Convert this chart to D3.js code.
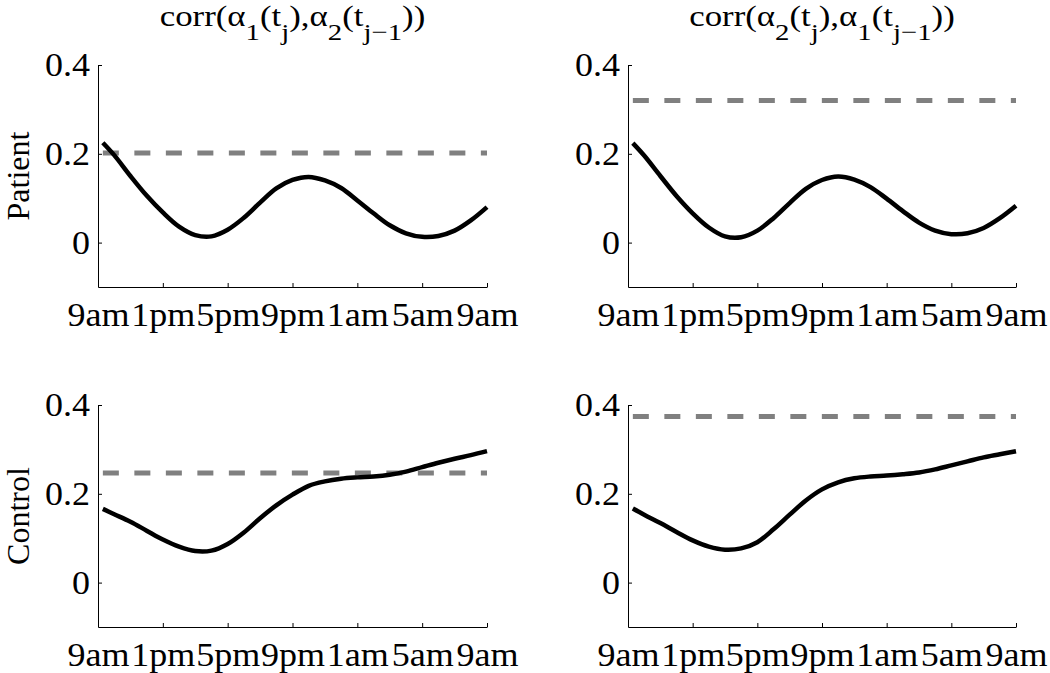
<!DOCTYPE html>
<html>
<head>
<meta charset="utf-8">
<script src="https://cdn.jsdelivr.net/npm/d3@7"></script>
<style>
  body { margin: 0; background: #fff; }
  svg text { font-family: "Liberation Serif", "Times New Roman", Times, serif; fill: #000; }
  .axis path, .axis line { stroke: #000; stroke-width: 1; }
  .curve { fill: none; stroke: #000; stroke-width: 4.5; }
  .ref { fill: none; stroke: #808080; stroke-width: 5; stroke-dasharray: 16 15.5; }
</style>
</head>
<body>
<div id="chart"></div>
<script>
// hours since 9am
const hours = [0.3, 1, 2, 3, 4, 5, 6, 7, 8, 9, 10, 11, 12, 13, 14, 15, 16, 17, 18, 19, 20, 21, 22, 23, 24];

const patientA = [0.225, 0.197, 0.150, 0.106, 0.068, 0.036, 0.017, 0.014, 0.029, 0.056, 0.090, 0.122, 0.141,
                  0.148, 0.140, 0.123, 0.095, 0.066, 0.039, 0.021, 0.013, 0.015, 0.027, 0.050, 0.080];
const patientB = [0.224, 0.196, 0.150, 0.105, 0.066, 0.034, 0.014, 0.012, 0.027, 0.055, 0.089, 0.121, 0.141,
                  0.149, 0.142, 0.125, 0.099, 0.071, 0.045, 0.027, 0.019, 0.021, 0.033, 0.055, 0.083];
const controlA = [0.166, 0.154, 0.137, 0.117, 0.097, 0.081, 0.071, 0.072, 0.087, 0.113, 0.145, 0.174, 0.198,
                  0.218, 0.228, 0.234, 0.237, 0.239, 0.243, 0.250, 0.260, 0.270, 0.279, 0.287, 0.296];
const controlB = [0.167, 0.153, 0.134, 0.114, 0.095, 0.081, 0.074, 0.077, 0.091, 0.120, 0.153, 0.185, 0.210,
                  0.226, 0.235, 0.239, 0.241, 0.244, 0.248, 0.255, 0.264, 0.273, 0.282, 0.289, 0.296];

// dashed reference levels
const refLevels = [[0.202, 0.320], [0.247, 0.374]];

const xTickHours = [0, 4, 8, 12, 16, 20, 24];
const xTickLabels = ["9am", "1pm", "5pm", "9pm", "1am", "5am", "9am"];
const yTicks = [0, 0.2, 0.4];
const rowLabels = ["Patient", "Control"];

const series = [[patientA, patientB], [controlA, controlB]];

// title pieces: [text, isSubscript]
const titles = [
  [["corr(α", 0], ["1", 1], ["(t", 0], ["j", 1], ["),α", 0], ["2", 1], ["(t", 0], ["j−1", 1], ["))", 0]],
  [["corr(α", 0], ["2", 1], ["(t", 0], ["j", 1], ["),α", 0], ["1", 1], ["(t", 0], ["j−1", 1], ["))", 0]]
];

const width = 1050, height = 673;
const colX = [[98, 487], [628, 1016]];
const rowY = [[287, 65], [627, 405]];

// the original figure's text is a bit wider than the font at the same height
const tickStretch = 1.06;
const titleStretch = 1.2;

const svg = d3.select("#chart").append("svg")
  .attr("width", width)
  .attr("height", height);

function widen(sel, k) {
  sel.each(function() {
    let w = this.getComputedTextLength();
    d3.select(this)
      .attr("textLength", w * k)
      .attr("lengthAdjust", "spacingAndGlyphs");
  });
}

rowY.forEach(function(yr, r) {
  colX.forEach(function(xr, c) {
    let x = d3.scaleLinear().domain([0, 24]).range(xr);
    let y = d3.scaleLinear().domain([-0.1, 0.4]).range(yr);

    let g = svg.append("g");

    g.append("g")
      .attr("class", "axis")
      .attr("transform", "translate(0," + yr[0] + ")")
      .call(d3.axisBottom(x)
        .tickValues(xTickHours)
        .tickFormat((d, i) => xTickLabels[i])
        .tickSizeInner(-4)
        .tickSizeOuter(0)
        .tickPadding(15));

    g.append("g")
      .attr("class", "axis")
      .attr("transform", "translate(" + xr[0] + ",0)")
      .call(d3.axisLeft(y)
        .tickValues(yTicks)
        .tickFormat(d3.format("~g"))
        .tickSizeInner(-4)
        .tickSizeOuter(0)
        .tickPadding(8));

    g.selectAll(".axis").attr("font-family", null).attr("font-size", null);
    g.selectAll(".axis .domain").attr("fill", "none");
    g.selectAll(".axis text").style("font-size", "34px");
    widen(g.selectAll(".axis text"), tickStretch);

    // dashed reference line
    let lvl = refLevels[r][c];
    g.append("path")
      .attr("class", "ref")
      .attr("d", d3.line()([[x(hours[0]), y(lvl)], [x(24), y(lvl)]]));

    let line = d3.line()
      .x((d, i) => x(hours[i]))
      .y(d => y(d))
      .curve(d3.curveCatmullRom.alpha(0.5));

    g.append("path")
      .attr("class", "curve")
      .attr("d", line(series[r][c]));

    if (r === 0) {
      let tg = svg.append("g")
        .attr("transform", "translate(" + ((xr[0] + xr[1]) / 2) + ",26) scale(" + titleStretch + ",1)");
      let t = tg.append("text")
        .attr("text-anchor", "middle")
        .style("font-size", "29px");
      let down = false;
      titles[c].forEach(function(p) {
        let ts = t.append("tspan").text(p[0]);
        if (p[1]) ts.style("font-size", "24px");
        if (p[1] && !down) { ts.attr("dy", 14); down = true; }
        else if (!p[1] && down) { ts.attr("dy", -14); down = false; }
      });
    }

    if (c === 0) {
      svg.append("text")
        .attr("transform", "translate(29," + ((yr[0] + yr[1]) / 2) + ") rotate(-90)")
        .attr("text-anchor", "middle")
        .style("font-size", "32px")
        .text(rowLabels[r]);
    }
  });
});
</script>
</body>
</html>
